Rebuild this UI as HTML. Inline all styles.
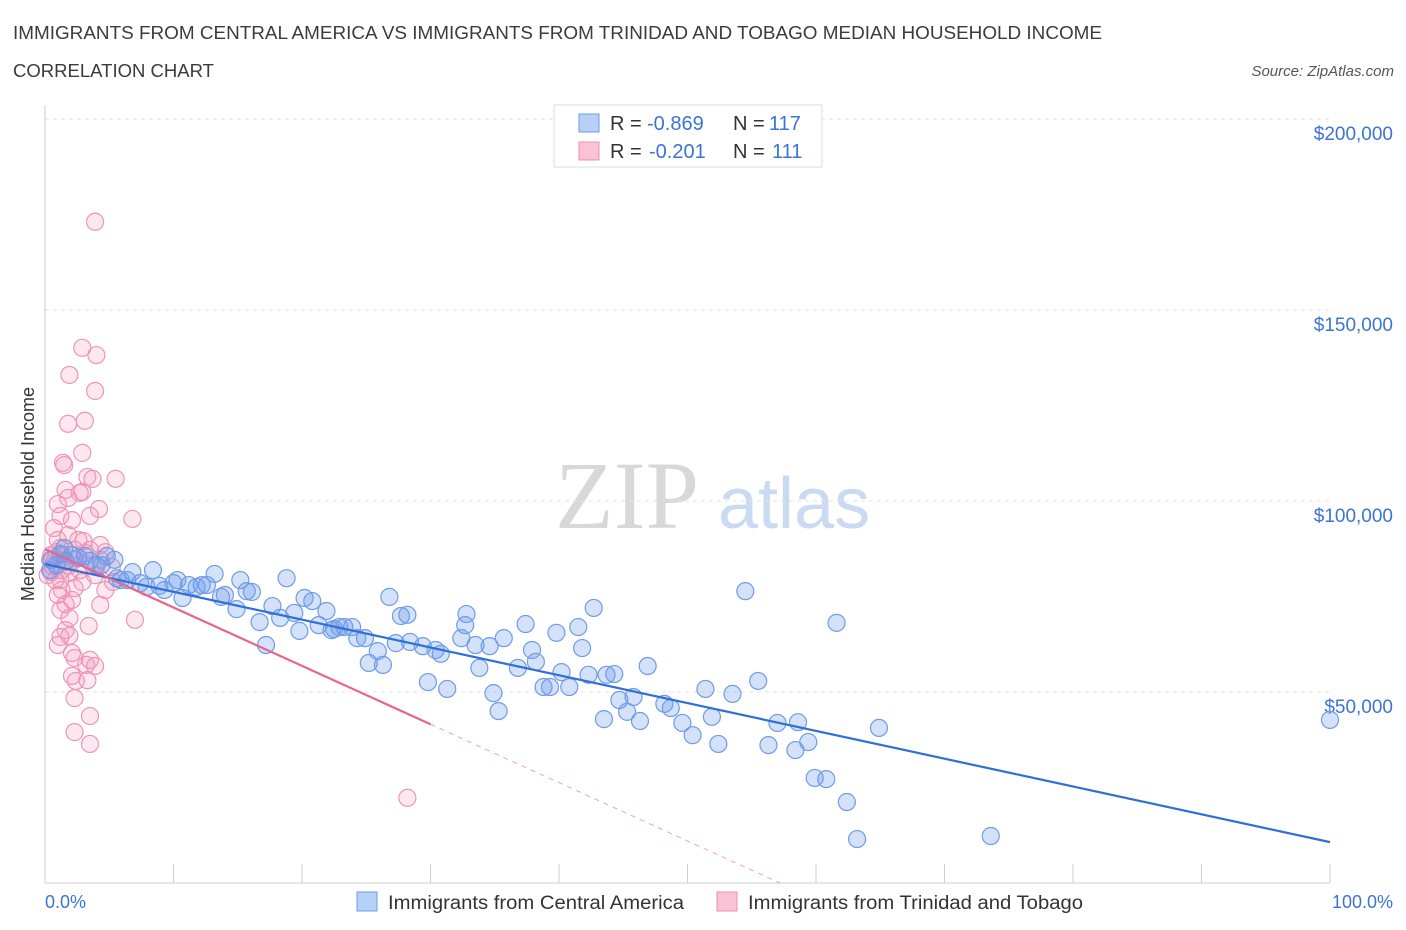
<!DOCTYPE html>
<html><head><meta charset="utf-8">
<style>
body{margin:0;background:#fff;font-family:"Liberation Sans",sans-serif;}
svg{display:block}
</style></head>
<body>
<svg width="1406" height="930" xmlns="http://www.w3.org/2000/svg" id="chart">
<text x="13" y="39" font-size="18" fill="#3b3b3b" textLength="1089" lengthAdjust="spacingAndGlyphs">IMMIGRANTS FROM CENTRAL AMERICA VS IMMIGRANTS FROM TRINIDAD AND TOBAGO MEDIAN HOUSEHOLD INCOME</text>
<text x="13" y="77" font-size="18" fill="#3b3b3b" textLength="201" lengthAdjust="spacingAndGlyphs">CORRELATION CHART</text>
<text x="1394" y="76" font-size="15" font-style="italic" fill="#555" text-anchor="end">Source: ZipAtlas.com</text>
<g>
<text x="555" y="528" font-size="96" font-family="Liberation Serif,serif" fill="#d8d8d8">ZIP</text>
<text x="718" y="528" font-size="72" fill="#c9daf2">atlas</text>
</g>
<g id="grid"></g>
<g id="axes"></g>
<g id="pts"></g>
<g id="trend"></g>
<g>
<rect x="554" y="105" width="268" height="62" fill="#fff" stroke="#ddd"/>
<rect x="579" y="114" width="20" height="18" fill="#b7d0f5" stroke="#6f9be8"/>
<text x="610" y="130" font-size="20" fill="#333">R =</text>
<text x="647" y="130" font-size="20" fill="#3b74d6">-0.869</text>
<text x="733" y="130" font-size="20" fill="#333">N =</text>
<text x="769" y="130" font-size="20" fill="#3b74d6">117</text>
<rect x="579" y="142" width="20" height="18" fill="#f9c3d5" stroke="#ee8fb0"/>
<text x="610" y="158" font-size="20" fill="#333">R =</text>
<text x="649" y="158" font-size="20" fill="#3b74d6">-0.201</text>
<text x="733" y="158" font-size="20" fill="#333">N =</text>
<text x="772" y="158" font-size="20" fill="#3b74d6">111</text>
</g>
<text transform="translate(34,494) rotate(-90)" font-size="18" fill="#333" text-anchor="middle">Median Household Income</text>
<text x="45" y="908" font-size="18" fill="#3b74d6">0.0%</text>
<text x="1393" y="908" font-size="18" fill="#3b74d6" text-anchor="end">100.0%</text>
<g>
<rect x="357" y="892" width="20" height="19" fill="#b7d0f5" stroke="#6f9be8"/>
<text x="388" y="909" font-size="19" fill="#333" textLength="296" lengthAdjust="spacingAndGlyphs">Immigrants from Central America</text>
<rect x="717" y="892" width="20" height="19" fill="#f9c3d5" stroke="#ee8fb0"/>
<text x="748" y="909" font-size="19" fill="#333" textLength="335" lengthAdjust="spacingAndGlyphs">Immigrants from Trinidad and Tobago</text>
</g>
</svg>
<script>
const yTicks=[50000,100000,150000,200000];
const yTickLabels=["$50,000","$100,000","$150,000","$200,000"];
const blueX=[100,73.6,63.2,62.4,60.8,59.9,64.9,61.6,54.5,59.4,58.6,57.0,58.4,56.3,55.5,53.5,51.4,51.9,52.4,50.4,49.6,48.7,48.2,46.9,46.3,45.8,45.3,44.7,43.5,44.3,43.7,42.7,41.8,41.5,42.3,40.8,40.2,39.3,38.8,39.8,38.2,37.9,37.4,36.8,35.7,34.6,34.9,35.3,33.8,33.5,32.7,32.4,32.8,31.3,30.8,29.8,30.4,29.4,28.4,28.2,27.7,27.3,26.8,26.3,25.2,25.9,24.9,24.3,23.9,23.3,22.9,22.5,22.3,21.9,21.3,20.8,20.2,19.8,19.4,18.8,18.3,17.7,17.2,16.7,16.1,15.7,15.2,14.9,14.0,13.7,13.2,12.6,12.2,11.8,11.2,10.7,10.3,10.0,9.3,8.9,8.4,7.9,7.4,6.8,6.4,5.9,5.6,4.8,4.4,4.0,3.5,3.1,2.6,2.1,1.6,1.2,0.9,0.5,0.4,1.5,5.4];
const blueY=[42.7,12.3,11.5,21.2,27.2,27.5,40.6,68.1,76.4,36.9,42.1,41.9,34.8,36.1,52.9,49.5,50.8,43.5,36.4,38.7,41.9,45.8,46.9,56.8,42.4,48.7,44.8,47.9,42.9,54.7,54.5,72.0,61.5,67.0,54.5,51.3,55.2,51.3,51.3,65.5,57.9,61.0,67.8,56.3,64.1,62.0,49.7,45.0,56.3,62.3,67.5,64.1,70.4,50.8,60.0,52.6,61.0,62.0,63.1,70.2,69.9,62.8,74.9,57.1,57.6,60.7,64.1,64.1,67.0,67.0,67.0,66.5,66.2,71.2,67.5,73.8,74.6,66.0,70.7,79.8,69.4,72.5,62.3,68.3,76.2,76.4,79.3,71.7,75.4,74.9,80.9,78.0,78.0,77.5,78.0,74.6,79.3,78.5,76.7,77.8,81.9,77.5,78.5,81.4,79.3,79.3,79.8,85.6,83.2,83.2,84.3,85.6,85.1,85.9,84.3,86.1,83.2,84.6,81.9,87.7,84.6];
const pinkX=[3.9,2.9,4.0,1.9,3.9,3.1,1.8,2.9,1.4,1.5,3.3,5.5,3.7,1.6,2.7,2.9,1.8,1.0,4.2,3.5,6.8,1.2,2.1,0.7,1.8,1.0,3.0,4.3,1.2,2.3,4.3,0.5,0.8,1.6,3.7,5.2,0.5,1.9,3.9,1.2,2.9,5.3,1.3,2.3,4.7,1.0,2.1,1.6,4.3,1.2,1.9,7.0,3.4,1.6,1.2,1.9,1.0,2.1,2.3,3.5,3.2,3.9,2.1,2.4,3.3,2.3,3.5,2.3,3.5,28.2,0.4,0.6,0.9,1.3,1.8,2.3,2.7,3.1,0.2,0.8,1.4,3.5,4.7,2.6];
const pinkY=[173.1,140.1,138.2,133.0,128.8,121.0,120.2,112.6,110.0,109.4,106.3,105.8,105.8,102.9,102.1,102.4,100.8,99.2,97.9,96.1,95.3,96.1,95.0,92.9,91.1,89.8,89.5,88.5,87.7,87.2,84.6,85.9,85.1,84.0,83.2,82.7,81.4,81.2,80.6,79.3,78.8,78.8,76.7,77.2,76.7,75.4,74.1,73.0,72.8,71.5,69.4,68.9,67.3,66.2,64.4,64.7,62.3,60.2,58.9,58.4,57.1,56.8,54.2,52.9,53.1,48.4,43.7,39.5,36.4,22.3,84.6,83.0,86.6,81.9,83.0,84.6,81.9,86.4,80.6,79.3,85.9,87.2,86.6,89.8];
const blueTrend=[83.5,10.7];
const pinkTrend=[87.4,-1.528];
const NS="http://www.w3.org/2000/svg";
const X=p=>45+p*12.85;
const Y=k=>883-k*1000/50000*191;
function mk(tag,attrs,parent){const e=document.createElementNS(NS,tag);for(const k in attrs)e.setAttribute(k,attrs[k]);document.getElementById(parent).appendChild(e);return e;}
yTicks.forEach((v,i)=>{
  const g=mk('line',{x1:45,x2:1330,y1:Y(v/1000),y2:Y(v/1000),stroke:'#e3e3e3','stroke-dasharray':'4,4'},'grid');
  
  
  const t=mk('text',{x:1393,y:Y(v/1000)+21,'font-size':19,fill:'#3b74d6','text-anchor':'end'},'grid');
  t.textContent=yTickLabels[i];
  
  
});
const ax=mk('line',{x1:45,x2:45,y1:105,y2:883,stroke:'#ccc'},'axes');


const bx=mk('line',{x1:45,x2:1330,y1:883,y2:883,stroke:'#ccc'},'axes');


for(let i=0;i<=10;i++){
  const t=mk('line',{x1:X(i*10),x2:X(i*10),y1:864,y2:883,stroke:'#ccc'},'axes');
  
  
}
pinkX.forEach((x,i)=>{
  const c=mk('circle',{cx:X(x),cy:Y(pinkY[i]),r:8.5,fill:'rgba(245,150,185,0.22)',stroke:'#ef94b6','stroke-width':1.2},'pts');
  
  
});
blueX.forEach((x,i)=>{
  const c=mk('circle',{cx:X(x),cy:Y(blueY[i]),r:8.5,fill:'rgba(110,155,235,0.3)',stroke:'#6f9be8','stroke-width':1.2},'pts');
  
  
});
const bl=mk('line',{x1:X(0),y1:Y(blueTrend[0]),x2:X(100),y2:Y(blueTrend[1]),stroke:'#2f6fd8','stroke-width':2.2},'trend');


const pEnd=30, pZero=-pinkTrend[0]/pinkTrend[1];
const pl=mk('line',{x1:X(0),y1:Y(pinkTrend[0]),x2:X(pEnd),y2:Y(pinkTrend[0]+pinkTrend[1]*pEnd),stroke:'#e8648f','stroke-width':2.2},'trend');


const pd=mk('line',{x1:X(pEnd),y1:Y(pinkTrend[0]+pinkTrend[1]*pEnd),x2:X(pZero),y2:Y(0),stroke:'#efa0bb','stroke-width':1,'stroke-dasharray':'5,5'},'trend');


</script>
</body></html>
